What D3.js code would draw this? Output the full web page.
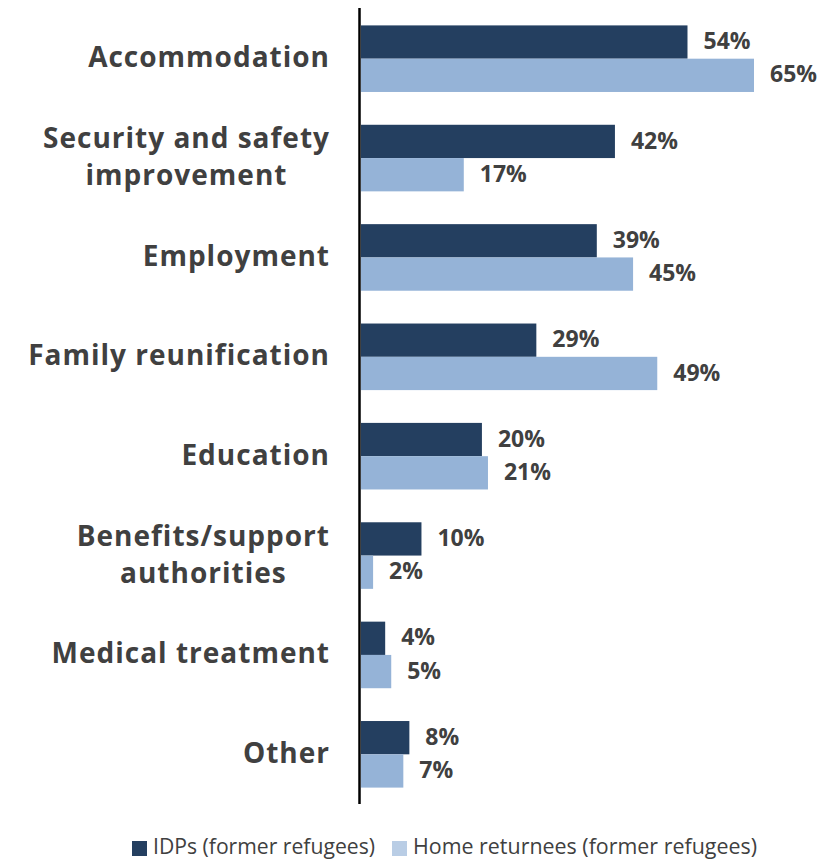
<!DOCTYPE html>
<html>
<head>
<meta charset="utf-8">
<script src="https://cdn.jsdelivr.net/npm/d3@7"></script>
<style>
  html, body { margin: 0; padding: 0; background: #fff; }
  svg { display: block; }
</style>
</head>
<body>
<svg id="chart" width="838" height="860"></svg>
<script>
// Reasons for choosing the current place of residence, by group
const categories = [
  ["Accommodation"],
  ["Security and safety", "improvement"],
  ["Employment"],
  ["Family reunification"],
  ["Education"],
  ["Benefits/support", "authorities"],
  ["Medical treatment"],
  ["Other"]
];
const idpValues = [54, 42, 39, 29, 20, 10, 4, 8];
const returneeValues = [65, 17, 45, 49, 21, 2, 5, 7];
const seriesNames = ["IDPs (former refugees)", "Home returnees (former refugees)"];

const svg = d3.select("#chart");
const textColor = "#404040";
const colors = ["#243F60", "#95B3D7"];
const legendColors = ["#243F60", "#B9CDE5"];

const keys = categories.map(c => c.join(" "));
const series = [idpValues, returneeValues];

const x = d3.scaleLinear().domain([0, 65]).range([361, 754]);
const y = d3.scaleBand().domain(keys).range([9, 804]).paddingInner(0.33).paddingOuter(0.165);
const ySub = d3.scaleBand().domain([0, 1]).range([0, y.bandwidth()]);

// bars and value labels
series.forEach((vals, si) => {
  const g = svg.append("g");
  g.selectAll("rect").data(vals).join("rect")
    .attr("x", x(0))
    .attr("y", (d, i) => y(keys[i]) + ySub(si))
    .attr("width", d => x(d) - x(0))
    .attr("height", ySub.bandwidth())
    .attr("fill", colors[si]);
  g.selectAll("text").data(vals).join("text")
    .attr("x", d => x(d) + 16)
    .attr("y", (d, i) => y(keys[i]) + ySub(si) + ySub.bandwidth() / 2 + 1)
    .attr("dominant-baseline", "middle")
    .attr("font-family", "'Open Sans', sans-serif")
    .attr("font-weight", 700)
    .attr("font-size", 23)
    .attr("fill", textColor)
    .text(d => d + "%");
});

// category axis line
svg.append("line")
  .attr("x1", 359.5).attr("x2", 359.5)
  .attr("y1", 8).attr("y2", 804)
  .attr("stroke", "#000").attr("stroke-width", 2.5);

// category labels: block right-aligned, lines centred within the block
const labelRight = 330;
const lineH = 37;
categories.forEach((lines, i) => {
  const cy = y(keys[i]) + y.bandwidth() / 2;
  const t = svg.append("text")
    .attr("font-family", "'Open Sans', sans-serif")
    .attr("font-weight", 700)
    .attr("font-size", 28)
    .attr("letter-spacing", 1.0)
    .attr("fill", textColor)
    .attr("text-anchor", "middle");
  const spans = lines.map((ln, k) => t.append("tspan")
    .attr("y", cy + 1 + (k - (lines.length - 1) / 2) * lineH)
    .attr("dominant-baseline", "middle")
    .text(ln));
  const widths = spans.map(s => s.node().getComputedTextLength());
  const w = Math.max(...widths);
  spans.forEach(s => s.attr("x", labelRight - w / 2));
});

// legend
const legend = svg.append("g").attr("font-family", "'Open Sans', sans-serif")
  .attr("font-size", 21).attr("fill", textColor);
const legendItems = [
  { x: 132, tx: 153, tw: 222 },
  { x: 392, tx: 413, tw: 344 }
];
seriesNames.forEach((name, i) => {
  const it = legendItems[i];
  legend.append("rect")
    .attr("x", it.x).attr("y", 841).attr("width", 15).attr("height", 15)
    .attr("fill", legendColors[i]);
  legend.append("text")
    .attr("x", it.tx).attr("y", 854)
    .attr("textLength", it.tw)
    .attr("lengthAdjust", "spacingAndGlyphs")
    .text(name);
});
</script>
</body>
</html>
